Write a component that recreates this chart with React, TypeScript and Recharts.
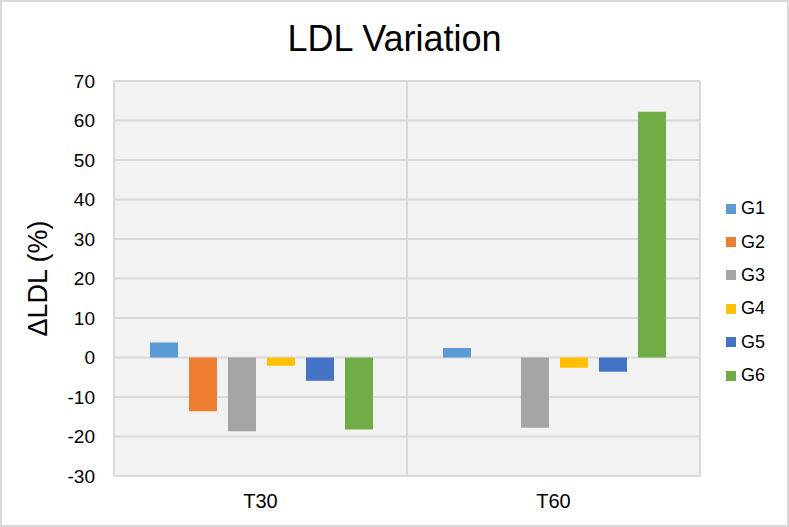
import React from 'react';
import { BarChart, Bar, XAxis, YAxis, CartesianGrid } from 'recharts';

const categories = ['T30', 'T60'];
const groups = ['G1', 'G2', 'G3', 'G4', 'G5', 'G6'];
const g1 = [3.8, 2.4];
const g2 = [-13.6, 0];
const g3 = [-18.7, -17.8];
const g4 = [-2.1, -2.6];
const g5 = [-5.9, -3.6];
const g6 = [-18.2, 62.2];
const yTicks = [-30, -20, -10, 0, 10, 20, 30, 40, 50, 60, 70];

const colors = ['#5b9bd5', '#ed7d31', '#a5a5a5', '#ffc000', '#4472c4', '#70ad47'];
const series = [g1, g2, g3, g4, g5, g6];

const data = categories.map((cat, i) => {
  const row: Record<string, string | number> = { cat };
  groups.forEach((g, j) => {
    row[g] = series[j][i];
  });
  return row;
});

const font = '"Liberation Sans", Arial, sans-serif';

const App: React.FC = () => {
  return (
    <div
      style={{
        position: 'absolute',
        left: 0,
        top: 0,
        width: 789,
        height: 527,
        boxSizing: 'border-box',
        border: '2px solid #d9d9d9',
        background: '#fff',
        fontFamily: font,
      }}
    >
      <div style={{ position: 'absolute', left: -2, top: -2 }}>
        <BarChart
          width={789}
          height={527}
          data={data}
          margin={{ top: 81, right: 89, left: 0, bottom: 11 }}
          barCategoryGap={36}
          barGap={11}
        >
          <CartesianGrid
            fill="#f2f2f2"
            stroke="#d9d9d9"
            strokeWidth={2}
            verticalCoordinatesGenerator={({ offset }: any) => [
              offset.left,
              offset.left + offset.width / 2,
              offset.left + offset.width,
            ]}
          />
          <XAxis
            dataKey="cat"
            axisLine={false}
            tickLine={false}
            tickSize={0}
            tickMargin={18}
            height={40}
            tick={{ fill: '#000', fontSize: 20, fontFamily: font }}
          />
          <YAxis
            domain={[-30, 70]}
            ticks={yTicks}
            interval={0}
            axisLine={false}
            tickLine={false}
            tickSize={0}
            tickMargin={19}
            width={114}
            tick={{ fill: '#000', fontSize: 19, fontFamily: font }}
            label={{
              value: 'ΔLDL (%)',
              angle: -90,
              position: 'center',
              dx: -20,
              style: { fill: '#000', fontSize: 27, fontFamily: font },
            }}
          />
          {groups.map((g, i) => (
            <Bar key={g} dataKey={g} fill={colors[i]} isAnimationActive={false} />
          ))}
        </BarChart>
      </div>
      <div
        style={{
          position: 'absolute',
          left: 0,
          top: 16,
          width: 785,
          textAlign: 'center',
          fontSize: 36,
          color: '#000',
          whiteSpace: 'nowrap',
        }}
      >
        LDL Variation
      </div>
      <div style={{ position: 'absolute', left: 724, top: 190, fontSize: 18, color: '#000' }}>
        {groups.map((g, i) => (
          <div key={g} style={{ display: 'flex', alignItems: 'center', height: 33.4 }}>
            <span style={{ width: 10, height: 10, background: colors[i], marginRight: 5 }} />
            <span>{g}</span>
          </div>
        ))}
      </div>
    </div>
  );
};

export default App;
